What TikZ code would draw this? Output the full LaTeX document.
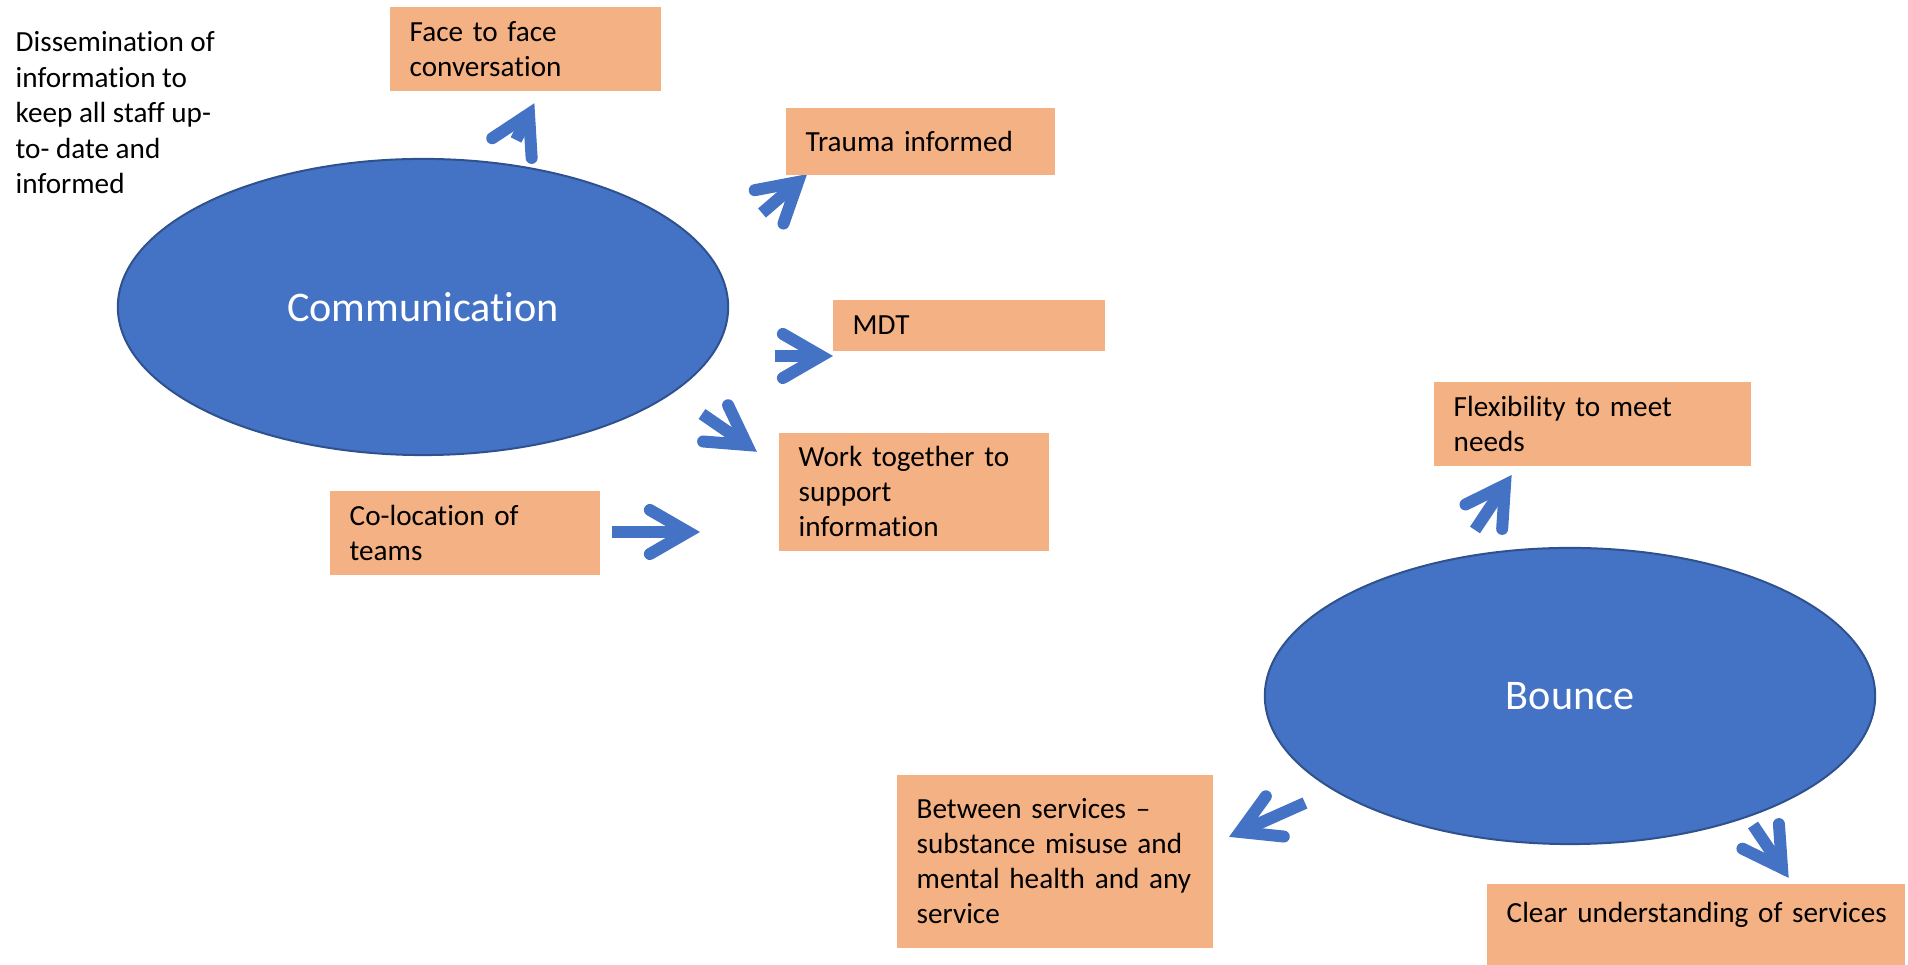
\documentclass[tikz,border=0pt]{standalone}
\usepackage{fontspec}
\setmainfont{Carlito}[Ligatures=NoCommon]
\usetikzlibrary{calc,shapes.geometric}
\definecolor{accentblue}{HTML}{4472C4}
\definecolor{edgeblue}{HTML}{2F528F}
\definecolor{peach}{HTML}{F4B183}
% chevron arrow: shaft from tail #1 to vertex #2, two round-capped arms meeting at #2
\newcommand\chevarrow[2]{%
  \draw[chevshaft] (#1) -- (#2);
  \draw[chevhead] ($(#2)!0.44cm!30:(#1)$) -- (#2) -- ($(#2)!0.44cm!-30:(#1)$);
}
\begin{document}
\begin{tikzpicture}[x=0.01cm,y=-0.01cm,
  chevshaft/.style={draw=accentblue,line width=0.12cm,line cap=butt},
  chevhead/.style={draw=accentblue,line width=0.12cm,line cap=round,line join=miter},
  hub/.style={ellipse,fill=accentblue,draw=edgeblue,line width=0.02cm,
    minimum width=6.1cm,minimum height=2.96cm,inner sep=0pt,
    text=white,font=\fontsize{12}{14}\selectfont},
  note/.style={rectangle,fill=peach,inner xsep=0.2cm,inner ysep=0pt,align=left,
    anchor=north west,font=\fontsize{8.3}{10}\selectfont},
  plain/.style={inner sep=0pt,align=left,anchor=north west,font=\fontsize{8.3}{10.1}\selectfont}]
\useasboundingbox (0,0) rectangle (1908,965);

% arrow tails and tip vertices
\coordinate (s1) at (516,140);  \coordinate (v1) at (529,114);
\coordinate (s2) at (762,213);  \coordinate (v2) at (798,182);
\coordinate (s3) at (775,356);  \coordinate (v3) at (821,356);
\coordinate (s4) at (702,414);  \coordinate (v4) at (747,445);
\coordinate (s5) at (612,532);  \coordinate (v5) at (688,532);
\coordinate (s6) at (1475,530); \coordinate (v6) at (1505,485);
\coordinate (s7) at (1305,803); \coordinate (v7) at (1240,832);
\coordinate (s8) at (1753,825); \coordinate (v8) at (1782,868);

\chevarrow{s1}{v1}
\chevarrow{s2}{v2}
\chevarrow{s3}{v3}
\chevarrow{s4}{v4}
\chevarrow{s5}{v5}
\chevarrow{s6}{v6}
\chevarrow{s7}{v7}
\chevarrow{s8}{v8}

% the two themes
\node[hub] (comm) at (423,307) {Communication};
\node[hub] (bounce) at (1570,696) {Bounce};

% sub-themes
\node[note,minimum width=2.71cm,minimum height=0.84cm,text width=2.31cm] (face) at (389,6) {Face to face\\conversation};
\node[note,minimum width=2.69cm,minimum height=0.67cm,text width=2.29cm] (trauma) at (785,107) {Trauma informed};
\node[note,minimum width=2.72cm,minimum height=0.51cm,text width=2.32cm] (mdt) at (832,299) {MDT};
\node[note,minimum width=2.70cm,minimum height=1.18cm,text width=2.30cm] (work) at (778,432) {Work together to\\support\\information};
\node[note,minimum width=2.70cm,minimum height=0.84cm,text width=2.30cm] (coloc) at (329,490) {Co-location of\\teams};
\node[note,minimum width=3.17cm,minimum height=0.84cm,text width=2.77cm] (flex) at (1433,381) {Flexibility to meet\\needs};
\node[note,minimum width=3.16cm,minimum height=1.73cm,text width=2.76cm] (between) at (896,774) {Between services --\\substance misuse and\\mental health and any\\service};
\node[note,minimum width=4.18cm,minimum height=0.82cm,text width=3.78cm,text depth=0.25cm] (clear) at (1486,883) {\mbox{Clear understanding of services}};

\node[plain] (dissem) at (15,31) {Dissemination of\\information to\\keep all staff up-\\to- date and\\informed};
\end{tikzpicture}
\end{document}
